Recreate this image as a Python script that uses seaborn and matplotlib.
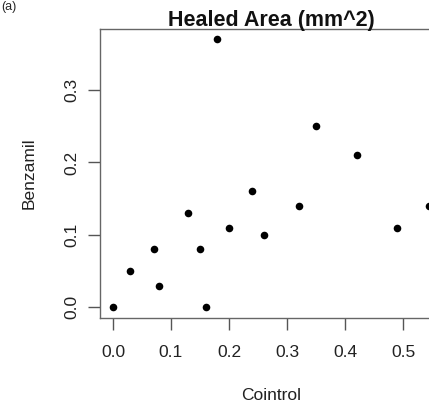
import pandas as pd
import seaborn as sns
import matplotlib.pyplot as plt

# values
cointrol = [0.00, 0.03, 0.07, 0.08, 0.13, 0.15, 0.16, 0.18, 0.20, 0.24, 0.26, 0.32, 0.35, 0.42, 0.49, 0.545]
benzamil = [0.00, 0.05, 0.08, 0.03, 0.13, 0.08, 0.00, 0.37, 0.11, 0.16, 0.10, 0.14, 0.25, 0.21, 0.11, 0.14]
x_ticks = [0.0, 0.1, 0.2, 0.3, 0.4, 0.5]
y_ticks = [0.0, 0.1, 0.2, 0.3]

df = pd.DataFrame({'Cointrol': cointrol, 'Benzamil': benzamil})

sns.set_style('white')
plt.rcParams['font.family'] = ['Liberation Sans', 'DejaVu Sans']

fig = plt.figure(figsize=(4.29, 4.05), dpi=100)
ax = fig.add_axes([0.233, 0.215, 0.797, 0.714])

sns.scatterplot(data=df, x='Cointrol', y='Benzamil', color='black', s=30,
                edgecolor='black', linewidth=0, ax=ax, clip_on=False)

ax.set_xlim(-0.0224, 0.567)
ax.set_ylim(-0.0148, 0.3848)
ax.set_xticks(x_ticks)
ax.set_xticklabels(['%.1f' % v for v in x_ticks])
ax.set_yticks(y_ticks)
ax.set_yticklabels(['%.1f' % v for v in y_ticks], rotation=90, va='center')
ax.tick_params(bottom=True, left=True, direction='out', length=8.6, width=1,
               color='#555555', labelsize=12.5, labelcolor='#222222')
ax.tick_params(axis='x', pad=11)
ax.tick_params(axis='y', pad=6)
for sp in ax.spines.values():
    sp.set_color('#666666')
    sp.set_linewidth(1)

ax.set_title('Healed Area (mm^2)', fontsize=15.5, fontweight='bold', pad=2,
             color='#111111')
ax.set_xlabel('Cointrol', fontsize=12.5, labelpad=20, color='#222222')
ax.set_ylabel('Benzamil', fontsize=12.5, labelpad=20, color='#222222')

fig.text(0.002, 0.998, '(a)', fontsize=9, va='top', ha='left')

plt.savefig('out.png', dpi=100)
